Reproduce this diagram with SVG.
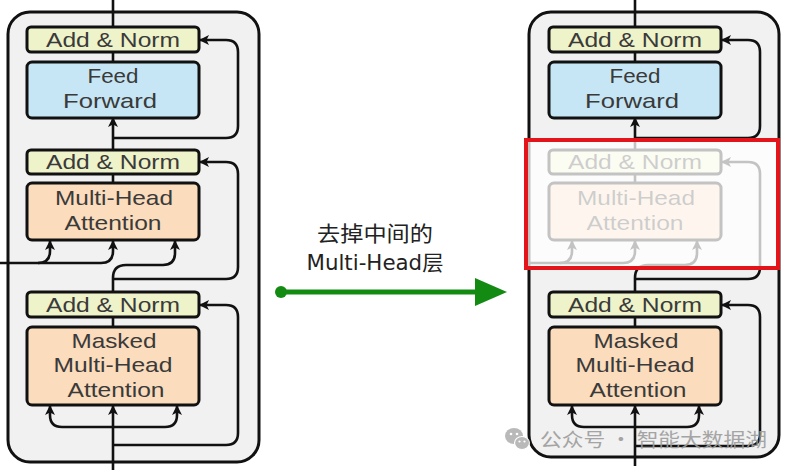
<svg xmlns="http://www.w3.org/2000/svg" width="793" height="472" viewBox="0 0 793 472">
<style>
.panel{fill:#f1f1f1;stroke:#111;stroke-width:3}
.an{fill:#eef3c9;stroke:#111;stroke-width:3}
.ff{fill:#c6e6f5;stroke:#111;stroke-width:3}
.mha{fill:#fbdcbc;stroke:#111;stroke-width:3}
.lbl{font-family:"Liberation Sans",Arial,sans-serif;font-size:21px;fill:#3a3a3a;text-anchor:middle}
.wire{fill:none;stroke:#111;stroke-width:2.6}
.arr{marker-end:url(#ah)}
.cap{font-family:"DejaVu Sans","Noto Sans CJK SC",sans-serif;font-size:21px;fill:#222;text-anchor:middle}
.wm{font-family:"Noto Sans CJK SC",sans-serif;font-size:19px;fill:#9c9c9c}
</style>
<defs>
<marker id="ah" viewBox="0 0 10 10" refX="9" refY="5" markerWidth="10" markerHeight="10" markerUnits="userSpaceOnUse" orient="auto">
<path d="M0,0 L10,5 L0,10 L2.5,5 z" fill="#111"/>
</marker>
<marker id="gh" viewBox="0 0 10 10" refX="0" refY="5" markerWidth="10" markerHeight="10" orient="auto"/>
</defs>
<rect width="793" height="472" fill="#fff"/>

<!-- LEFT PANEL -->
<g id="left-decoder">
<rect id="left-frame" class="panel" x="8" y="12" width="251" height="450" rx="22"/>
<g id="left-connectors">
<path class="wire" d="M113 0 V27"/>
<path class="wire" d="M113 52 V62"/>
<path class="wire arr" d="M113 150 V118"/>
<path class="wire arr" d="M113 138 H226 Q238 138 238 126 V52 Q238 40 226 40 H200"/>
<path class="wire" d="M113 174 V183"/>
<path class="wire arr" d="M113 279 H226 Q238 279 238 267 V174 Q238 162 226 162 H200"/>
<path class="wire arr" d="M113 292 V278 Q113 265 126 265 H163 Q175 265 175 253 V241"/>
<path class="wire arr" d="M0 263 H38 Q50 263 50 251 V241"/>
<path class="wire arr" d="M38 263 H101 Q113 263 113 251 V241"/>
<path class="wire" d="M113 317 V327"/>
<path class="wire arr" d="M113 470 V406"/>
<path class="wire arr" d="M113 427 H62 Q50 427 50 415 V406"/>
<path class="wire arr" d="M113 427 H165 Q177 427 177 415 V406"/>
<path class="wire arr" d="M113 445 H226 Q238 445 238 433 V317 Q238 305 226 305 H200"/>
</g>
<g id="left-addnorm1"><rect class="an" x="27" y="27" width="172" height="25" rx="4"/><text class="lbl" x="113" y="47" textLength="134" lengthAdjust="spacingAndGlyphs">Add &amp; Norm</text></g>
<g id="left-ff"><rect class="ff" x="27" y="62" width="172" height="56" rx="5"/><text class="lbl" x="113" y="83" textLength="51" lengthAdjust="spacingAndGlyphs">Feed</text><text class="lbl" x="110" y="108" textLength="94" lengthAdjust="spacingAndGlyphs">Forward</text></g>
<g id="left-addnorm2"><rect class="an" x="27" y="150" width="172" height="24" rx="4"/><text class="lbl" x="113" y="169" textLength="134" lengthAdjust="spacingAndGlyphs">Add &amp; Norm</text></g>
<g id="left-mha"><rect class="mha" x="27" y="183" width="172" height="57" rx="5"/><text class="lbl" x="114" y="205" textLength="118" lengthAdjust="spacingAndGlyphs">Multi-Head</text><text class="lbl" x="113" y="230" textLength="97" lengthAdjust="spacingAndGlyphs">Attention</text></g>
<g id="left-addnorm3"><rect class="an" x="27" y="292" width="172" height="25" rx="4"/><text class="lbl" x="113" y="312" textLength="134" lengthAdjust="spacingAndGlyphs">Add &amp; Norm</text></g>
<g id="left-masked"><rect class="mha" x="27" y="327" width="172" height="78" rx="5"/><text class="lbl" x="114" y="348" textLength="85" lengthAdjust="spacingAndGlyphs">Masked</text><text class="lbl" x="113" y="372" textLength="119" lengthAdjust="spacingAndGlyphs">Multi-Head</text><text class="lbl" x="116" y="397" textLength="97" lengthAdjust="spacingAndGlyphs">Attention</text></g>
</g>

<!-- MIDDLE ARROW -->
<g id="transition">
<text class="cap" x="375" y="241" textLength="116" lengthAdjust="spacingAndGlyphs">去掉中间的</text>
<text class="cap" x="375" y="270" textLength="137" lengthAdjust="spacingAndGlyphs">Multi-Head层</text>
<g id="green-arrow">
<circle cx="281" cy="292" r="6" fill="#138b13"/>
<line x1="281" y1="292" x2="478" y2="292" stroke="#138b13" stroke-width="5"/>
<polygon points="475,278 507,292 475,306" fill="#138b13"/>
</g>
</g>

<!-- RIGHT PANEL -->
<g id="right-decoder">
<rect id="right-frame" class="panel" x="529" y="12" width="250" height="445" rx="22"/>
<g transform="translate(522,0)">
<g id="right-connectors">
<path class="wire" d="M113 0 V27"/>
<path class="wire" d="M113 52 V62"/>
<path class="wire arr" d="M113 150 V118"/>
<path class="wire arr" d="M113 138 H226 Q238 138 238 126 V52 Q238 40 226 40 H200"/>
<path class="wire" d="M113 174 V183"/>
<path class="wire arr" d="M113 279 H226 Q238 279 238 267 V174 Q238 162 226 162 H200"/>
<path class="wire arr" d="M113 292 V278 Q113 265 126 265 H163 Q175 265 175 253 V241"/>
<path class="wire arr" d="M6 263 H38 Q50 263 50 251 V241"/>
<path class="wire arr" d="M38 263 H101 Q113 263 113 251 V241"/>
<path class="wire" d="M113 317 V327"/>
<path class="wire arr" d="M113 466 V406"/>
<path class="wire arr" d="M113 427 H62 Q50 427 50 415 V406"/>
<path class="wire arr" d="M113 427 H165 Q177 427 177 415 V406"/>
<path class="wire arr" d="M113 446 H226 Q238 446 238 434 V317 Q238 305 226 305 H200"/>
</g>
<g id="right-addnorm1"><rect class="an" x="27" y="27" width="172" height="25" rx="4"/><text class="lbl" x="113" y="47" textLength="134" lengthAdjust="spacingAndGlyphs">Add &amp; Norm</text></g>
<g id="right-ff"><rect class="ff" x="27" y="62" width="172" height="56" rx="5"/><text class="lbl" x="113" y="83" textLength="51" lengthAdjust="spacingAndGlyphs">Feed</text><text class="lbl" x="110" y="108" textLength="94" lengthAdjust="spacingAndGlyphs">Forward</text></g>
<g id="right-addnorm2"><rect class="an" x="27" y="150" width="172" height="24" rx="4"/><text class="lbl" x="113" y="169" textLength="134" lengthAdjust="spacingAndGlyphs">Add &amp; Norm</text></g>
<g id="right-mha"><rect class="mha" x="27" y="183" width="172" height="57" rx="5"/><text class="lbl" x="114" y="205" textLength="118" lengthAdjust="spacingAndGlyphs">Multi-Head</text><text class="lbl" x="113" y="230" textLength="97" lengthAdjust="spacingAndGlyphs">Attention</text></g>
<g id="right-addnorm3"><rect class="an" x="27" y="292" width="172" height="25" rx="4"/><text class="lbl" x="113" y="312" textLength="134" lengthAdjust="spacingAndGlyphs">Add &amp; Norm</text></g>
<g id="right-masked"><rect class="mha" x="27" y="327" width="172" height="78" rx="5"/><text class="lbl" x="114" y="348" textLength="85" lengthAdjust="spacingAndGlyphs">Masked</text><text class="lbl" x="113" y="372" textLength="119" lengthAdjust="spacingAndGlyphs">Multi-Head</text><text class="lbl" x="116" y="397" textLength="97" lengthAdjust="spacingAndGlyphs">Attention</text></g>
</g>
<g id="removed-highlight">
<rect x="526" y="140" width="252" height="128" fill="#fff" fill-opacity="0.75"/>
<rect x="526" y="140" width="252" height="128" fill="none" stroke="#e3151b" stroke-width="4"/>
</g>
</g>

<!-- WATERMARK -->
<g id="watermark" opacity="0.9">
<ellipse cx="514" cy="436" rx="9" ry="8" fill="#b2b2b2"/>
<ellipse cx="522" cy="443" rx="7.5" ry="6.5" fill="#b2b2b2" stroke="#fff" stroke-width="1.2"/>
<circle cx="511" cy="434" r="1.3" fill="#fff"/><circle cx="517" cy="434" r="1.3" fill="#fff"/>
<circle cx="519.5" cy="441.5" r="1.1" fill="#fff"/><circle cx="524.5" cy="441.5" r="1.1" fill="#fff"/>
<text class="wm" x="540" y="447" textLength="227" lengthAdjust="spacingAndGlyphs">公众号 · 智能大数据湖</text>
</g>
</svg>
